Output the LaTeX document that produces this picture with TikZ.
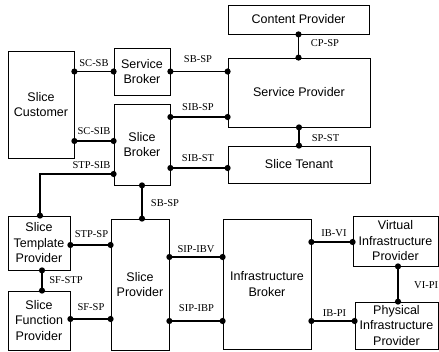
\documentclass[tikz,border=0pt]{standalone}
\usepackage{fontspec}
\setmainfont{Liberation Serif}
\newfontfamily\boxfont{Liberation Sans}
\usetikzlibrary{arrows.meta}
\begin{document}
\begin{tikzpicture}[x=1pt,y=-1pt,
  box/.style={draw,line width=0.8pt,rectangle,inner sep=0pt,align=center,
    font=\boxfont\fontsize{12.5}{15.5}\selectfont},
  conn/.style={line width=1.7pt,{Circle[length=6pt]}-{Circle[length=6pt]},
    shorten <=-3pt,shorten >=-3pt},
  lab/.style={font=\fontsize{10.5}{12}\selectfont,inner sep=0pt}]
\useasboundingbox (0,0) rectangle (439,352);
\fill[white] (0,0) rectangle (439,352);
% boxes
\node[box,minimum width=66pt,minimum height=107pt] (SC) at (41,104.5) {Slice\\Customer};
\node[box,minimum width=56pt,minimum height=47pt] (SB) at (142,71.5) {Service\\Broker};
\node[box,minimum width=56pt,minimum height=81pt] (SIB) at (142,144.5) {Slice\\Broker};
\node[box,minimum width=141pt,minimum height=29pt] (CP) at (298.5,19.5) {Content Provider};
\node[box,minimum width=142pt,minimum height=69pt] (SP) at (299,92.5) {Service Provider};
\node[box,minimum width=142pt,minimum height=37pt] (ST) at (299,164.5) {Slice Tenant};
\node[box,minimum width=62pt,minimum height=54pt] (STP) at (39,243) {Slice\\Template\\Provider};
\node[box,minimum width=62pt,minimum height=59pt] (SFP) at (39,320.5) {Slice\\Function\\Provider};
\node[box,minimum width=58pt,minimum height=131pt] (SLP) at (140,284.5) {Slice\\Provider};
\node[box,minimum width=88pt,minimum height=130pt] (IB) at (267,284) {Infrastructure\\Broker};
\node[box,minimum width=85pt,minimum height=50pt] (VIP) at (395.5,241) {Virtual\\Infrastructure\\Provider};
\node[box,minimum width=83pt,minimum height=47pt] (PIP) at (396.5,325.5) {Physical\\Infrastructure\\Provider};
% helper coordinates
\coordinate (y141) at (0,141);
\coordinate (y117) at (0,117);
\coordinate (y168) at (0,168);
\coordinate (y174) at (0,174);
\coordinate (y245) at (0,245);
\coordinate (y319) at (0,319);
\coordinate (y257) at (0,257);
\coordinate (y321) at (0,321);
\coordinate (y242) at (0,242);
\coordinate (x42) at (42,0);
\coordinate (x398) at (398,0);
\coordinate (x40) at (40,0);
% connectors
\draw[conn] (SC.east |- SB.west) -- (SB.west);
\draw[conn] (SC.east |- y141) -- (SIB.west |- y141);
\draw[conn] (SB.east) -- (SP.west |- SB.east);
\draw[conn] (SIB.east |- y117) -- (SP.west |- y117);
\draw[conn] (SIB.east |- y168) -- (ST.west |- y168);
\draw[conn] (SIB.west |- y174) -| (x40 |- STP.north);
\draw[conn] (CP.south) -- (CP.south |- SP.north);
\draw[conn] (SP.south) -- (ST.north);
\draw[conn] (SIB.south) -- (SIB.south |- SLP.north);
\draw[conn] (STP.east |- y245) -- (SLP.west |- y245);
\draw[conn] (x42 |- STP.south) -- (x42 |- SFP.north);
\draw[conn] (SFP.east |- y319) -- (SLP.west |- y319);
\draw[conn] (SLP.east |- y257) -- (IB.west |- y257);
\draw[conn] (SLP.east |- y321) -- (IB.west |- y321);
\draw[conn] (IB.east |- y242) -- (VIP.west |- y242);
\draw[conn] (IB.east |- y321) -- (PIP.west |- y321);
\draw[conn] (x398 |- VIP.south) -- (x398 |- PIP.north);
% labels
\node[lab] (l1) at (94,63) {SC-SB};
\node[lab] (l2) at (94,131) {SC-SIB};
\node[lab] (l3) at (91.5,165) {STP-SIB};
\node[lab] (l4) at (198,59) {SB-SP};
\node[lab] (l5) at (198,107) {SIB-SP};
\node[lab] (l6) at (198,158) {SIB-ST};
\node[lab] (l7) at (325,43) {CP-SP};
\node[lab] (l8) at (325.5,138) {SP-ST};
\node[lab] (l9) at (165,203) {SB-SP};
\node[lab] (l10) at (91.5,234) {STP-SP};
\node[lab] (l11) at (66,280) {SF-STP};
\node[lab] (l12) at (91,307) {SF-SP};
\node[lab] (l13) at (196,249) {SIP-IBV};
\node[lab] (l14) at (196.5,308) {SIP-IBP};
\node[lab] (l15) at (334,233) {IB-VI};
\node[lab] (l16) at (334.5,313) {IB-PI};
\node[lab,anchor=east] (l17) at (438.3,285) {VI-PI};
\end{tikzpicture}
\end{document}
